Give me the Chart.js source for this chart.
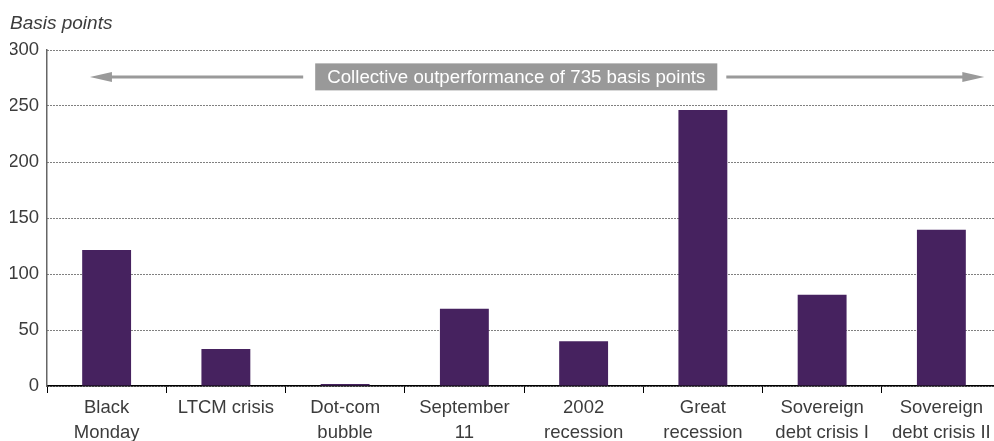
<!DOCTYPE html>
<html>
<head>
<meta charset="utf-8">
<script src="https://cdn.jsdelivr.net/npm/chart.js@4"></script>
<style>
  html, body { margin: 0; padding: 0; background: #fff; overflow: hidden; }
  #wrap { width: 1001px; height: 441px; }
</style>
</head>
<body>
<div id="wrap"><canvas id="crisisChart"></canvas></div>
<script>
// Crisis episodes (x axis)
const categories = [
  ['Black', 'Monday'],
  ['LTCM crisis'],
  ['Dot-com', 'bubble'],
  ['September', '11'],
  ['2002', 'recession'],
  ['Great', 'recession'],
  ['Sovereign', 'debt crisis I'],
  ['Sovereign', 'debt crisis II']
];
// Outperformance in basis points
const outperformance = [121.5, 33, 1.8, 69, 40, 246.5, 81.5, 139.5];
// Y axis ticks
const yTicks = [0, 50, 100, 150, 200, 250, 300];

const axisTitle = 'Basis points';
const bannerText = 'Collective outperformance of 735 basis points';
const textColor = '#3c3c3c';
const fontFamily = "'Liberation Sans', Arial, sans-serif";

// axis title + banner with arrows
const bannerPlugin = {
  id: 'banner',
  afterDraw(chart) {
    const ctx = chart.ctx;
    const x = chart.scales.x, y = chart.scales.y;
    const yc = y.getPixelForValue(276);

    ctx.save();
    ctx.font = 'italic 19px ' + fontFamily;
    ctx.fillStyle = textColor;
    ctx.textBaseline = 'alphabetic';
    ctx.textAlign = 'left';
    ctx.fillText(axisTitle, 10, 29);

    // banner box
    ctx.font = '18.7px ' + fontFamily;
    const tw = ctx.measureText(bannerText).width;
    const boxW = tw + 24, boxH = 27;
    const cx = x.getPixelForValue(3.435);
    const bx = cx - boxW / 2;
    ctx.fillStyle = '#999';
    ctx.fillRect(bx, yc - boxH / 2, boxW, boxH);
    ctx.fillStyle = '#fff';
    ctx.textAlign = 'center';
    ctx.textBaseline = 'middle';
    ctx.fillText(bannerText, cx, yc + 1);

    // arrows
    const leftTip = x.getPixelForValue(-0.14);
    const rightTip = x.getPixelForValue(7.36);
    ctx.strokeStyle = '#9a9a9a';
    ctx.fillStyle = '#9a9a9a';
    ctx.lineWidth = 3;
    ctx.beginPath();
    ctx.moveTo(bx - 12, yc);
    ctx.lineTo(leftTip + 18, yc);
    ctx.moveTo(bx + boxW + 9, yc);
    ctx.lineTo(rightTip - 18, yc);
    ctx.stroke();
    ctx.beginPath();
    ctx.moveTo(leftTip, yc);
    ctx.lineTo(leftTip + 22, yc - 5);
    ctx.lineTo(leftTip + 22, yc + 5);
    ctx.closePath();
    ctx.fill();
    ctx.beginPath();
    ctx.moveTo(rightTip, yc);
    ctx.lineTo(rightTip - 22, yc - 5);
    ctx.lineTo(rightTip - 22, yc + 5);
    ctx.closePath();
    ctx.fill();
    ctx.restore();
  }
};

new Chart(document.getElementById('crisisChart'), {
  type: 'bar',
  data: {
    labels: categories,
    datasets: [{
      data: outperformance,
      backgroundColor: '#46225f',
      categoryPercentage: 1,
      barPercentage: 0.41
    }]
  },
  options: {
    responsive: true,
    maintainAspectRatio: false,
    animation: false,
    layout: { padding: { top: 50, left: 10, right: 0, bottom: 0 } },
    plugins: {
      legend: { display: false },
      tooltip: { enabled: false }
    },
    scales: {
      x: {
        offset: true,
        grid: {
          offset: true,
          drawOnChartArea: false,
          color: '#000',
          tickLength: 7,
          lineWidth: 1
        },
        border: { color: '#000', width: 1.5 },
        ticks: {
          color: textColor,
          font: { family: fontFamily, size: 18.5, lineHeight: 1.32 },
          padding: 3,
          maxRotation: 0,
          autoSkip: false
        },
        afterFit(scale) { scale.height = 55; }
      },
      y: {
        min: 0,
        max: 300,
        afterBuildTicks(scale) { scale.ticks = yTicks.map(v => ({ value: v })); },
        grid: { color: '#000', lineWidth: 1, drawTicks: false },
        border: { color: '#666', width: 1.5, dash: [1, 2] },
        ticks: {
          color: textColor,
          font: { family: fontFamily, size: 18.5 },
          padding: 8
        },
        afterFit(scale) { scale.width = 37; }
      }
    }
  },
  plugins: [bannerPlugin]
});
</script>
</body>
</html>
